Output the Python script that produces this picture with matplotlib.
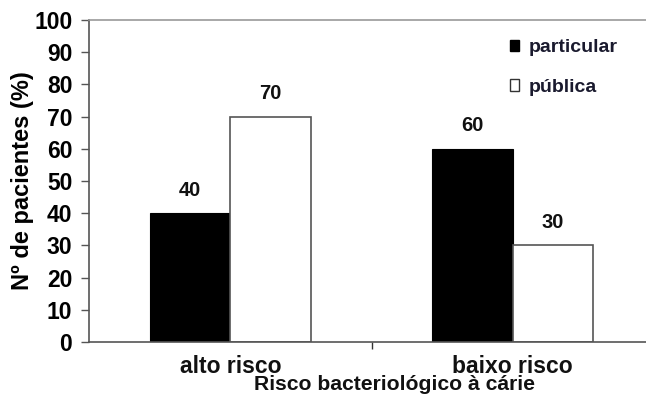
import matplotlib
matplotlib.use("Agg")
import matplotlib.pyplot as plt
import numpy as np
from matplotlib.patches import Patch

categories = ["alto risco", "baixo risco"]
series_names = ["particular", "pública"]
particular = [40, 60]
publica = [70, 30]
y_ticks = [0, 10, 20, 30, 40, 50, 60, 70, 80, 90, 100]

plt.rcParams["font.family"] = ["Liberation Sans", "DejaVu Sans"]
plt.rcParams["font.weight"] = "bold"

W, H = 646, 396
fig = plt.figure(figsize=(W / 100, H / 100), dpi=100)
ax = fig.add_axes([89 / W, (H - 342) / H, 565 / W, 322 / H])

x = np.arange(len(categories))
bw = 0.285
b1 = ax.bar(x - bw / 2, particular, bw, color="black", edgecolor="black", linewidth=0.8)
b2 = ax.bar(x + bw / 2, publica, bw, color="white", edgecolor="#555555", linewidth=1.2)

for bars, vals in ((b1, particular), (b2, publica)):
    for rect, v in zip(bars, vals):
        ax.annotate(f"{v}", (rect.get_x() + rect.get_width() / 2, v),
                    xytext=(0, 16.5), textcoords="offset points",
                    ha="center", va="center", fontsize=14.5, fontweight="bold",
                    color="#111111")

ax.set_xlim(-0.5, 1.5)
ax.set_ylim(0, 100)
ax.set_yticks(y_ticks)
ax.set_yticklabels([str(t) for t in y_ticks], fontsize=16.5, fontweight="bold")
ax.set_xticks([0.5])
ax.set_xticklabels([""])
ax.tick_params(axis="y", direction="out", length=6, width=1, color="#555555", pad=6)
ax.tick_params(axis="x", direction="out", length=5, width=1, color="#333333")

for i, c in enumerate(categories):
    ax.text(i, -4, c, ha="center", va="top", fontsize=16.5, fontweight="bold",
            transform=ax.transData, color="#111111")

ax.set_ylabel("Nº de pacientes (%)", fontsize=17, fontweight="bold", labelpad=0)
fig.text(395 / W, 1 - 390 / H, "Risco bacteriológico à cárie", ha="center",
         va="baseline", fontsize=15.2, fontweight="bold", color="#111111")

for s in ("left", "bottom"):
    ax.spines[s].set_color("#555555")
    ax.spines[s].set_linewidth(1.2)
ax.spines["top"].set_color("#999999")
ax.spines["top"].set_linewidth(1.2)
ax.spines["right"].set_visible(False)

handles = [Patch(facecolor="black", edgecolor="black"),
           Patch(facecolor="white", edgecolor="#333333")]
leg = ax.legend(handles, series_names, loc="upper left",
                bbox_to_anchor=(492 / W, 1 - 22 / H), bbox_transform=fig.transFigure,
                frameon=False, handlelength=0.5, handleheight=0.5,
                handletextpad=0.5, labelspacing=1.15, fontsize=14)
for t in leg.get_texts():
    t.set_color("#1a1a2e")
    t.set_fontweight("bold")

fig.savefig("out.png", dpi=100)
